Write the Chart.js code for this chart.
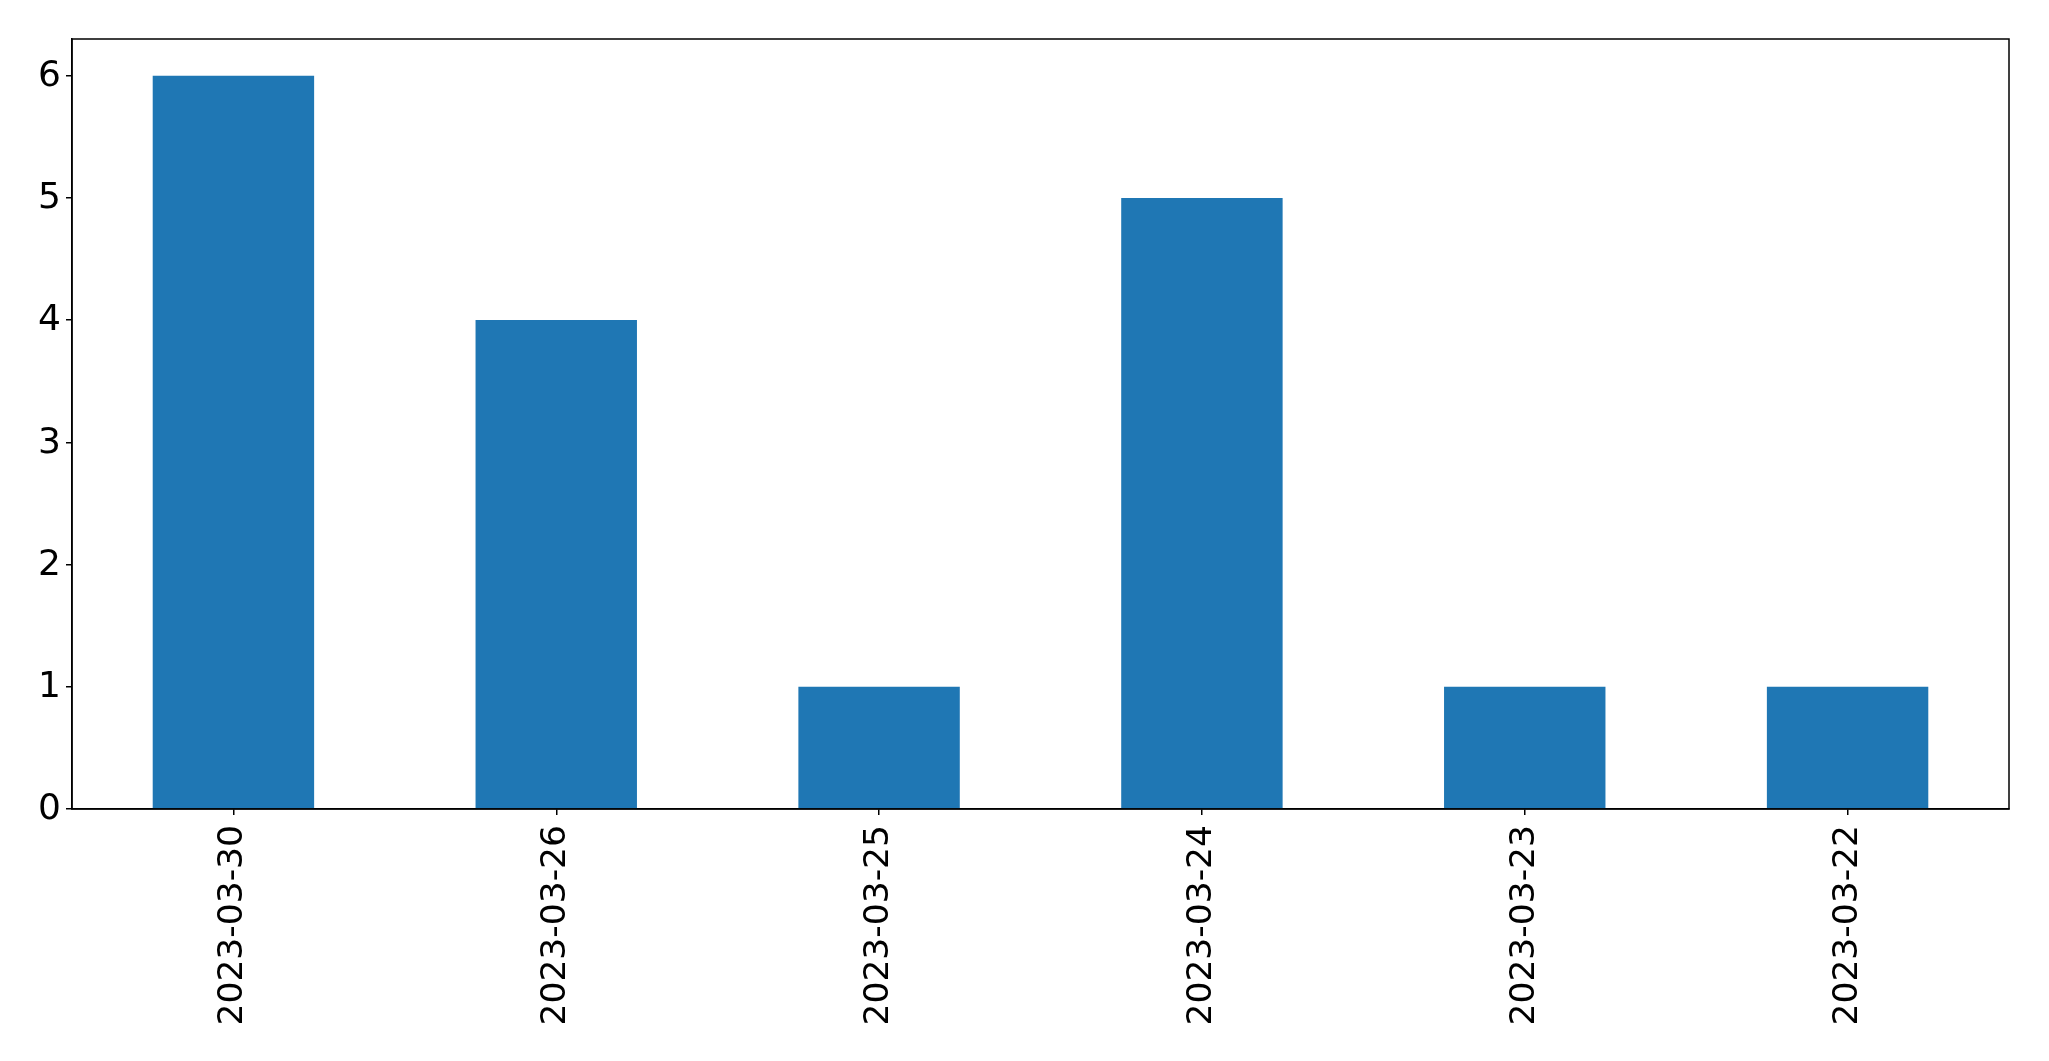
<!DOCTYPE html>
<html>
<head>
<meta charset="utf-8">
<script src="https://cdn.jsdelivr.net/npm/chart.js@4/dist/chart.umd.min.js"></script>
<style>
  body { margin: 0; background: #fff; }
  canvas { display: block; }
</style>
</head>
<body>
<canvas id="myChart" width="2049" height="1061"></canvas>
<script>
const dates = ['2023-03-30', '2023-03-26', '2023-03-25', '2023-03-24', '2023-03-23', '2023-03-22'];
const counts = [6, 4, 1, 5, 1, 1];
const yTicks = [0, 1, 2, 3, 4, 5, 6];

// draws the top and right spines like matplotlib
const frame = {
  id: 'frame',
  afterDraw(chart) {
    const { ctx, chartArea: a } = chart;
    ctx.save();
    ctx.strokeStyle = '#000';
    ctx.lineWidth = 1.5;
    ctx.strokeRect(a.left, a.top, a.right - a.left, a.bottom - a.top);
    ctx.restore();
  }
};

const ctx = document.getElementById('myChart').getContext('2d');
const myChart = new Chart(ctx, {
  type: 'bar',
  data: {
    labels: dates,
    datasets: [{
      data: counts,
      backgroundColor: '#1f77b4',
      barPercentage: 0.5,
      categoryPercentage: 1.0
    }]
  },
  options: {
    responsive: false,
    animation: false,
    layout: { padding: { top: 39, right: 40, left: 0, bottom: 0 } },
    plugins: { legend: { display: false }, tooltip: { enabled: false } },
    scales: {
      x: {
        grid: { display: true, drawOnChartArea: false, offset: false, tickLength: 6, color: '#000', lineWidth: 1.5 },
        border: { color: '#000', width: 1.5 },
        ticks: {
          color: '#000',
          font: { family: 'DejaVu Sans', size: 34.5 },
          minRotation: 90,
          maxRotation: 90,
          padding: 10
        },
        afterFit: s => { s.height = 1061 - 809; }
      },
      y: {
        min: 0,
        max: 6.3,
        grid: { display: true, drawOnChartArea: false, tickLength: 6, color: '#000', lineWidth: 1.5 },
        border: { color: '#000', width: 1.5 },
        ticks: {
          color: '#000',
          font: { family: 'DejaVu Sans', size: 36 },
          stepSize: 1,
          includeBounds: false,
          padding: 5,
          labelOffset: 1
        },
        afterBuildTicks: s => { s.ticks = yTicks.map(v => ({ value: v })); },
        afterFit: s => { s.width = 72; }
      }
    }
  },
  plugins: [frame]
});
</script>
</body>
</html>
